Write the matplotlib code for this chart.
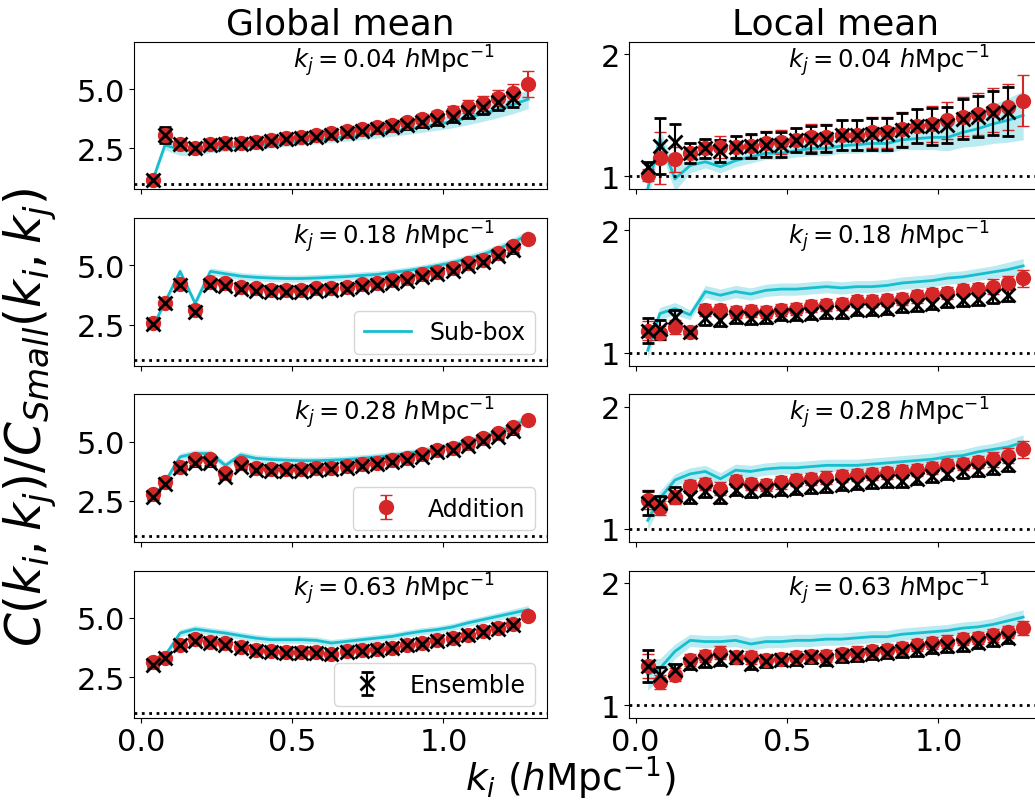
import matplotlib
matplotlib.use("Agg")
import matplotlib.pyplot as plt

# k_i bins (h/Mpc)
k_i = [0.04, 0.08, 0.13, 0.18, 0.23, 0.28, 0.33, 0.38, 0.43, 0.48, 0.53, 0.58, 0.63,
       0.68, 0.73, 0.78, 0.83, 0.88, 0.93, 0.98, 1.03, 1.08, 1.13, 1.18, 1.23, 1.28]
k_j_labels = ["0.04", "0.18", "0.28", "0.63"]

# ---- Global mean ----
# k_j = 0.04
g1_add = [1.16, 3.06, 2.67, 2.53, 2.67, 2.71, 2.73, 2.75, 2.85, 2.92, 2.99, 3.06, 3.13,
          3.23, 3.31, 3.41, 3.51, 3.62, 3.76, 3.88, 4.05, 4.26, 4.40, 4.64, 4.86, 5.24]
g1_add_err = [0.08, 0.2, 0.12, 0.1, 0.1, 0.1, 0.1, 0.1, 0.1, 0.1, 0.1, 0.12, 0.12,
              0.13, 0.14, 0.15, 0.16, 0.18, 0.2, 0.22, 0.24, 0.27, 0.3, 0.33, 0.37, 0.55]
g1_ens = [1.16, 3.06, 2.67, 2.50, 2.65, 2.68, 2.70, 2.72, 2.81, 2.88, 2.94, 3.00, 3.07,
          3.16, 3.23, 3.32, 3.41, 3.51, 3.60, 3.69, 3.84, 4.05, 4.26, 4.47, 4.61]
g1_ens_err = [0.08, 0.35, 0.15, 0.12, 0.1, 0.1, 0.1, 0.1, 0.1, 0.1, 0.1, 0.12, 0.12,
              0.13, 0.14, 0.15, 0.16, 0.18, 0.2, 0.22, 0.24, 0.27, 0.3, 0.33, 0.37]
g1_sub = [1.16, 2.64, 2.45, 2.40, 2.50, 2.55, 2.58, 2.62, 2.68, 2.74, 2.80, 2.86, 2.92,
          2.99, 3.06, 3.13, 3.22, 3.31, 3.41, 3.52, 3.64, 3.80, 3.96, 4.15, 4.35, 4.58]
g1_sub_err = [0.05, 0.2, 0.25, 0.2, 0.18, 0.17, 0.16, 0.16, 0.16, 0.16, 0.16, 0.17, 0.17,
              0.18, 0.19, 0.2, 0.21, 0.22, 0.23, 0.25, 0.27, 0.3, 0.32, 0.35, 0.38, 0.4]

# k_j = 0.18
g2_add = [2.57, 3.40, 4.22, 3.11, 4.32, 4.25, 4.11, 4.03, 3.96, 3.96, 3.96, 4.03, 4.03,
          4.11, 4.22, 4.28, 4.39, 4.46, 4.64, 4.74, 4.89, 5.10, 5.24, 5.52, 5.81, 6.11]
g2_add_err = [0.12, 0.1, 0.1, 0.1, 0.1, 0.1, 0.1, 0.1, 0.1, 0.1, 0.1, 0.1, 0.1,
              0.1, 0.1, 0.1, 0.1, 0.1, 0.1, 0.1, 0.11, 0.11, 0.12, 0.12, 0.13, 0.18]
g2_ens = [2.52, 3.40, 4.18, 3.04, 4.18, 4.12, 4.00, 3.93, 3.88, 3.87, 3.88, 3.93, 3.95,
          4.00, 4.10, 4.16, 4.26, 4.35, 4.50, 4.62, 4.78, 4.98, 5.13, 5.40, 5.67]
g2_ens_err = [0.1, 0.1, 0.1, 0.1, 0.1, 0.1, 0.1, 0.1, 0.1, 0.1, 0.1, 0.1, 0.1,
              0.1, 0.1, 0.1, 0.1, 0.1, 0.1, 0.1, 0.11, 0.11, 0.12, 0.12, 0.13]
g2_sub = [2.40, 3.45, 4.75, 3.40, 4.75, 4.65, 4.55, 4.50, 4.47, 4.45, 4.45, 4.47, 4.50,
          4.53, 4.58, 4.62, 4.70, 4.78, 4.88, 5.00, 5.12, 5.30, 5.47, 5.70, 5.98, 6.30]
g2_sub_err = [0.12, 0.12, 0.15, 0.12, 0.15, 0.15, 0.15, 0.15, 0.15, 0.15, 0.15, 0.15, 0.15,
              0.15, 0.15, 0.15, 0.15, 0.15, 0.15, 0.15, 0.16, 0.16, 0.17, 0.18, 0.19, 0.2]

# k_j = 0.28
g3_add = [2.77, 3.31, 3.94, 4.29, 4.27, 3.66, 4.12, 3.90, 3.84, 3.84, 3.84, 3.87, 3.91,
          3.98, 4.04, 4.12, 4.22, 4.32, 4.46, 4.65, 4.75, 4.93, 5.14, 5.35, 5.64, 5.92]
g3_add_err = [0.12, 0.1, 0.1, 0.1, 0.1, 0.1, 0.1, 0.1, 0.1, 0.1, 0.1, 0.1, 0.1,
              0.1, 0.1, 0.1, 0.1, 0.1, 0.1, 0.1, 0.11, 0.11, 0.12, 0.12, 0.13, 0.18]
g3_ens = [2.67, 3.23, 3.87, 4.08, 4.08, 3.52, 3.94, 3.82, 3.78, 3.78, 3.78, 3.81, 3.85,
          3.91, 3.97, 4.05, 4.14, 4.24, 4.37, 4.55, 4.65, 4.82, 5.02, 5.22, 5.45]
g3_ens_err = [0.1, 0.1, 0.1, 0.1, 0.1, 0.1, 0.1, 0.1, 0.1, 0.1, 0.1, 0.1, 0.1,
              0.1, 0.1, 0.1, 0.1, 0.1, 0.1, 0.1, 0.11, 0.11, 0.12, 0.12, 0.13]
g3_sub = [2.60, 3.30, 4.36, 4.50, 4.50, 4.00, 4.44, 4.30, 4.25, 4.22, 4.20, 4.20, 4.22,
          4.25, 4.30, 4.36, 4.43, 4.50, 4.60, 4.72, 4.85, 5.00, 5.18, 5.40, 5.65, 6.00]
g3_sub_err = [0.12, 0.12, 0.15, 0.15, 0.15, 0.15, 0.15, 0.15, 0.15, 0.15, 0.15, 0.15, 0.15,
              0.15, 0.15, 0.15, 0.15, 0.15, 0.15, 0.15, 0.16, 0.16, 0.17, 0.18, 0.19, 0.2]

# k_j = 0.63
g4_add = [3.12, 3.31, 3.87, 4.11, 3.97, 3.94, 3.77, 3.63, 3.59, 3.55, 3.55, 3.55, 3.49,
          3.59, 3.63, 3.69, 3.73, 3.87, 3.94, 4.05, 4.15, 4.29, 4.44, 4.58, 4.76, 5.07]
g4_add_err = [0.15, 0.1, 0.1, 0.1, 0.1, 0.1, 0.1, 0.1, 0.1, 0.1, 0.1, 0.1, 0.1,
              0.1, 0.1, 0.1, 0.1, 0.1, 0.1, 0.1, 0.1, 0.1, 0.1, 0.1, 0.1, 0.12]
g4_ens = [3.02, 3.31, 3.87, 4.01, 3.94, 3.87, 3.73, 3.60, 3.56, 3.53, 3.53, 3.53, 3.48,
          3.56, 3.60, 3.66, 3.71, 3.84, 3.91, 4.02, 4.12, 4.26, 4.41, 4.55, 4.72]
g4_ens_err = [0.12, 0.1, 0.1, 0.1, 0.1, 0.1, 0.1, 0.1, 0.1, 0.1, 0.1, 0.1, 0.1,
              0.1, 0.1, 0.1, 0.1, 0.1, 0.1, 0.1, 0.1, 0.1, 0.1, 0.1, 0.1]
g4_sub = [3.00, 3.40, 4.36, 4.53, 4.44, 4.36, 4.25, 4.15, 4.08, 4.08, 4.08, 4.05, 3.94,
          4.01, 4.08, 4.15, 4.22, 4.34, 4.44, 4.51, 4.62, 4.79, 4.93, 5.07, 5.21, 5.35]
g4_sub_err = [0.12, 0.12, 0.15, 0.15, 0.15, 0.15, 0.15, 0.15, 0.15, 0.15, 0.15, 0.15, 0.15,
              0.15, 0.15, 0.15, 0.15, 0.15, 0.15, 0.15, 0.15, 0.15, 0.15, 0.16, 0.17, 0.18]

# ---- Local mean ----
# k_j = 0.04
l1_add = [1.01, 1.15, 1.14, 1.19, 1.23, 1.24, 1.24, 1.25, 1.27, 1.28, 1.30, 1.32, 1.32,
          1.34, 1.34, 1.36, 1.36, 1.39, 1.41, 1.43, 1.46, 1.49, 1.51, 1.54, 1.57, 1.62]
l1_add_err = [0.05, 0.21, 0.1, 0.08, 0.08, 0.09, 0.09, 0.09, 0.1, 0.1, 0.1, 0.11, 0.11,
              0.12, 0.12, 0.13, 0.13, 0.14, 0.14, 0.15, 0.15, 0.16, 0.17, 0.18, 0.19, 0.21]
l1_ens = [1.08, 1.25, 1.28, 1.19, 1.23, 1.21, 1.24, 1.25, 1.26, 1.26, 1.30, 1.30, 1.31,
          1.34, 1.34, 1.35, 1.35, 1.38, 1.41, 1.41, 1.42, 1.47, 1.49, 1.52, 1.53]
l1_ens_err = [0.04, 0.23, 0.15, 0.08, 0.08, 0.09, 0.09, 0.1, 0.1, 0.1, 0.1, 0.11, 0.11,
              0.12, 0.12, 0.13, 0.13, 0.14, 0.14, 0.15, 0.15, 0.16, 0.17, 0.18, 0.2]
l1_sub = [0.90, 1.31, 0.98, 1.09, 1.12, 1.08, 1.13, 1.16, 1.19, 1.19, 1.21, 1.23, 1.23,
          1.25, 1.26, 1.27, 1.27, 1.30, 1.31, 1.32, 1.32, 1.36, 1.39, 1.43, 1.46, 1.50]
l1_sub_err = [0.1, 0.08, 0.1, 0.06, 0.05, 0.05, 0.05, 0.05, 0.05, 0.05, 0.05, 0.06, 0.06,
              0.06, 0.07, 0.07, 0.08, 0.08, 0.09, 0.1, 0.11, 0.12, 0.14, 0.16, 0.18, 0.2]

# k_j = 0.18
l2_add = [1.18, 1.16, 1.21, 1.17, 1.35, 1.35, 1.33, 1.34, 1.33, 1.35, 1.36, 1.38, 1.39,
          1.40, 1.42, 1.42, 1.43, 1.44, 1.46, 1.48, 1.49, 1.51, 1.52, 1.54, 1.57, 1.61]
l2_add_err = [0.08, 0.06, 0.06, 0.05, 0.05, 0.05, 0.05, 0.05, 0.05, 0.05, 0.05, 0.05, 0.05,
              0.05, 0.05, 0.05, 0.05, 0.05, 0.05, 0.05, 0.05, 0.05, 0.05, 0.06, 0.06, 0.07]
l2_ens = [1.18, 1.19, 1.29, 1.17, 1.28, 1.27, 1.29, 1.28, 1.29, 1.31, 1.31, 1.32, 1.33,
          1.33, 1.35, 1.35, 1.36, 1.38, 1.39, 1.40, 1.42, 1.43, 1.44, 1.46, 1.47]
l2_ens_err = [0.1, 0.08, 0.06, 0.04, 0.05, 0.05, 0.045, 0.045, 0.045, 0.045, 0.045, 0.045, 0.045,
              0.045, 0.045, 0.045, 0.045, 0.045, 0.045, 0.045, 0.045, 0.05, 0.05, 0.05, 0.05]
l2_sub = [1.02, 1.32, 1.36, 1.31, 1.50, 1.47, 1.50, 1.48, 1.51, 1.52, 1.52, 1.53, 1.54,
          1.53, 1.54, 1.54, 1.55, 1.57, 1.58, 1.59, 1.61, 1.62, 1.64, 1.66, 1.68, 1.71]
l2_sub_err = [0.07, 0.05, 0.05, 0.04, 0.05, 0.05, 0.05, 0.05, 0.05, 0.05, 0.05, 0.05, 0.05,
              0.05, 0.05, 0.05, 0.05, 0.05, 0.05, 0.05, 0.05, 0.05, 0.05, 0.05, 0.06, 0.06]

# k_j = 0.28
l3_add = [1.24, 1.17, 1.26, 1.35, 1.37, 1.33, 1.39, 1.37, 1.36, 1.38, 1.40, 1.41, 1.42,
          1.43, 1.44, 1.45, 1.46, 1.47, 1.48, 1.50, 1.52, 1.53, 1.55, 1.57, 1.60, 1.65]
l3_add_err = [0.08, 0.06, 0.06, 0.05, 0.05, 0.05, 0.05, 0.05, 0.05, 0.05, 0.05, 0.05, 0.05,
              0.05, 0.05, 0.05, 0.05, 0.05, 0.05, 0.05, 0.05, 0.05, 0.05, 0.06, 0.06, 0.07]
l3_ens = [1.21, 1.21, 1.28, 1.26, 1.31, 1.26, 1.32, 1.31, 1.32, 1.32, 1.33, 1.34, 1.35,
          1.36, 1.37, 1.38, 1.39, 1.39, 1.41, 1.43, 1.45, 1.47, 1.48, 1.50, 1.52]
l3_ens_err = [0.1, 0.06, 0.06, 0.045, 0.045, 0.045, 0.045, 0.045, 0.045, 0.045, 0.045, 0.045, 0.045,
              0.045, 0.045, 0.045, 0.045, 0.045, 0.045, 0.045, 0.045, 0.05, 0.05, 0.05, 0.05]
l3_sub = [1.07, 1.25, 1.40, 1.45, 1.47, 1.41, 1.48, 1.47, 1.49, 1.50, 1.50, 1.51, 1.52,
          1.52, 1.52, 1.53, 1.54, 1.55, 1.56, 1.57, 1.59, 1.60, 1.63, 1.65, 1.67, 1.71]
l3_sub_err = [0.08, 0.06, 0.05, 0.05, 0.05, 0.05, 0.05, 0.05, 0.05, 0.05, 0.05, 0.05, 0.05,
              0.05, 0.05, 0.05, 0.05, 0.05, 0.05, 0.05, 0.05, 0.05, 0.05, 0.05, 0.06, 0.06]

# k_j = 0.63
l4_add = [1.32, 1.19, 1.25, 1.37, 1.40, 1.43, 1.39, 1.39, 1.37, 1.38, 1.39, 1.40, 1.40,
          1.42, 1.43, 1.44, 1.45, 1.47, 1.49, 1.51, 1.52, 1.54, 1.55, 1.57, 1.60, 1.63]
l4_add_err = [0.1, 0.06, 0.05, 0.05, 0.05, 0.05, 0.05, 0.05, 0.05, 0.05, 0.05, 0.05, 0.05,
              0.05, 0.05, 0.05, 0.05, 0.05, 0.05, 0.05, 0.05, 0.05, 0.05, 0.05, 0.05, 0.06]
l4_ens = [1.32, 1.25, 1.29, 1.34, 1.36, 1.37, 1.39, 1.34, 1.36, 1.37, 1.37, 1.39, 1.37,
          1.40, 1.41, 1.42, 1.43, 1.44, 1.45, 1.47, 1.48, 1.49, 1.51, 1.53, 1.55]
l4_ens_err = [0.13, 0.06, 0.05, 0.045, 0.045, 0.045, 0.045, 0.045, 0.045, 0.045, 0.045, 0.045, 0.045,
              0.045, 0.045, 0.045, 0.045, 0.045, 0.045, 0.045, 0.045, 0.045, 0.045, 0.045, 0.045]
l4_sub = [1.25, 1.30, 1.44, 1.53, 1.52, 1.52, 1.53, 1.50, 1.52, 1.52, 1.53, 1.53, 1.54,
          1.54, 1.55, 1.56, 1.56, 1.58, 1.59, 1.60, 1.61, 1.63, 1.64, 1.66, 1.69, 1.72]
l4_sub_err = [0.13, 0.08, 0.06, 0.05, 0.05, 0.05, 0.05, 0.05, 0.05, 0.05, 0.05, 0.05, 0.05,
              0.05, 0.05, 0.05, 0.05, 0.05, 0.05, 0.05, 0.05, 0.05, 0.05, 0.05, 0.06, 0.06]

panels_global = [
    (g1_add, g1_add_err, g1_ens, g1_ens_err, g1_sub, g1_sub_err),
    (g2_add, g2_add_err, g2_ens, g2_ens_err, g2_sub, g2_sub_err),
    (g3_add, g3_add_err, g3_ens, g3_ens_err, g3_sub, g3_sub_err),
    (g4_add, g4_add_err, g4_ens, g4_ens_err, g4_sub, g4_sub_err),
]
panels_local = [
    (l1_add, l1_add_err, l1_ens, l1_ens_err, l1_sub, l1_sub_err),
    (l2_add, l2_add_err, l2_ens, l2_ens_err, l2_sub, l2_sub_err),
    (l3_add, l3_add_err, l3_ens, l3_ens_err, l3_sub, l3_sub_err),
    (l4_add, l4_add_err, l4_ens, l4_ens_err, l4_sub, l4_sub_err),
]

CYAN = "#17becf"
RED = "#d62728"

fig, axes = plt.subplots(4, 2, figsize=(10.35, 8.03), dpi=100, sharex=True)
fig.subplots_adjust(left=0.1295, right=1.0067, bottom=0.1046, top=0.9465,
                    wspace=0.1985, hspace=0.196)

for col, panels in enumerate([panels_global, panels_local]):
    for row, (add, add_err, ens, ens_err, sub, sub_err) in enumerate(panels):
        ax = axes[row, col]
        lo = [s - e for s, e in zip(sub, sub_err)]
        hi = [s + e for s, e in zip(sub, sub_err)]
        ax.fill_between(k_i, lo, hi, color=CYAN, alpha=0.3, lw=0)
        h_sub, = ax.plot(k_i, sub, color=CYAN, lw=2, label="Sub-box")
        h_add = ax.errorbar(k_i, add, yerr=add_err, fmt="o", color=RED, ms=10,
                            capsize=4, elinewidth=1.5, label="Addition")
        h_ens = ax.errorbar(k_i[:len(ens)], ens, yerr=ens_err, fmt="x", color="k",
                            ms=10, mew=2, capsize=4, elinewidth=1.5, label="Ensemble")
        ax.axhline(1, color="k", ls=":", lw=2)
        ax.text(0.63, 0.88, r"$k_j = %s\ h$Mpc$^{-1}$" % k_j_labels[row],
                transform=ax.transAxes, ha="center", va="center", fontsize=17.5)
        ax.tick_params(labelsize=22, pad=3)
        if col == 0:
            ax.set_ylim(0.77, 7.0)
            ax.set_yticks([2.5, 5.0])
            if row == 1:
                ax.legend(handles=[h_sub], loc="lower right", fontsize=17)
            elif row == 2:
                ax.legend(handles=[h_add], loc="lower right", fontsize=17)
            elif row == 3:
                ax.legend(handles=[h_ens], loc="lower right", fontsize=17)
        else:
            ax.set_ylim(0.895, 2.1)
            ax.set_yticks([1, 2])

axes[0, 0].set_xticks([0.0, 0.5, 1.0])
axes[0, 0].set_title("Global mean", fontsize=26)
axes[0, 1].set_title("Local mean", fontsize=26)

fig.text(0.029, 0.48, r"$C(k_i, k_j)/C_{Small}(k_i, k_j)$", rotation=90,
         ha="center", va="center", fontsize=35)
fig.text(0.551, 0.001, r"$k_i\ (h$Mpc$^{-1})$", ha="center", va="bottom", fontsize=27)

fig.savefig("out.png", dpi=100)
